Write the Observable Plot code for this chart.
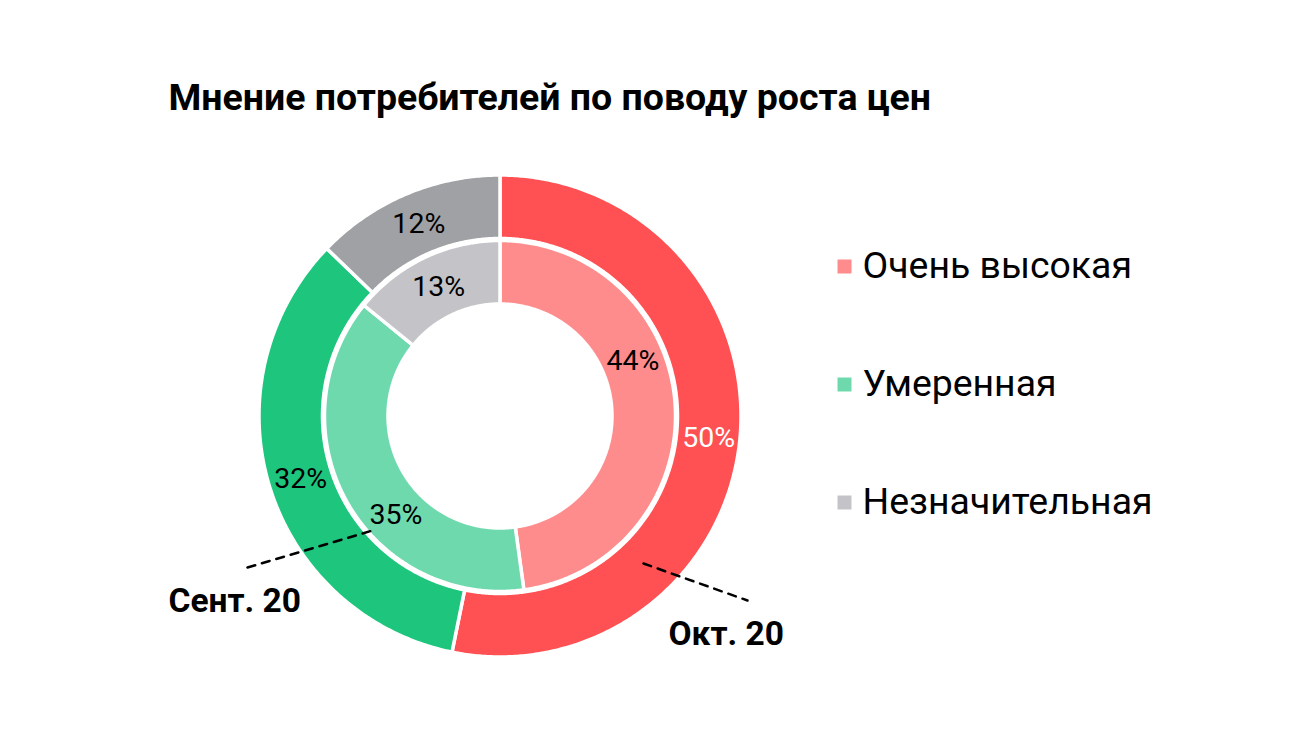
<!DOCTYPE html>
<html>
<head>
<meta charset="utf-8">
<script src="https://cdn.jsdelivr.net/npm/d3@7"></script>
<script src="https://cdn.jsdelivr.net/npm/@observablehq/plot@0.6"></script>
<style>
  html, body { margin: 0; padding: 0; background: #fff; }
  #chart svg { display: block; font-family: Roboto, sans-serif; }
</style>
</head>
<body>
<div id="chart"></div>
<script>
// ---- data ----
const title = "Мнение потребителей по поводу роста цен";
const categories = ["Очень высокая", "Умеренная", "Незначительная"];
const periods = ["Окт. 20", "Сент. 20"];          // outer ring, inner ring
const octValues = [50, 32, 12];
const septValues = [44, 35, 13];

// ---- styles / layout (not data) ----
const W = 1300, H = 731;
const cx = 500, cy = 416;                            // donut centre in pixels
const rings = {
  "Окт. 20":  {values: octValues,  r0: 177.5, r1: 241, colors: ["#FF5053", "#1DC57D", "#A0A1A5"], labelColor: ["#ffffff", "#000000", "#000000"]},
  "Сент. 20": {values: septValues, r0: 112,   r1: 175.5, colors: ["#FF8C8C", "#6FD9AE", "#C4C4C8"], labelColor: ["#000000", "#000000", "#000000"]}
};
const labelAngleShift = {"Сент. 20|Очень высокая": -19, "Сент. 20|Умеренная": -14};
const legendColors = rings["Сент. 20"].colors;

// build ring geometry from the values via d3.pie (angle 0 = 12 o'clock, clockwise)
const arcRows = [];
const labelRows = [];
for (const p of periods) {
  const ring = rings[p];
  const arcs = d3.pie().sort(null).startAngle(0).endAngle(2 * Math.PI)(ring.values);
  arcs.forEach((a, i) => {
    const key = p + "|" + categories[i];
    const n = Math.max(2, Math.ceil((a.endAngle - a.startAngle) / (Math.PI / 360)));
    for (let k = 0; k <= n; k++) {
      const t = a.startAngle + (a.endAngle - a.startAngle) * k / n;
      arcRows.push({
        key, fill: ring.colors[i],
        x1: ring.r0 * Math.sin(t), y1: ring.r0 * Math.cos(t),
        x2: ring.r1 * Math.sin(t), y2: ring.r1 * Math.cos(t)
      });
    }
    const mid = (a.startAngle + a.endAngle) / 2 + (labelAngleShift[key] || 0) * Math.PI / 180;
    const rm = (ring.r0 + ring.r1) / 2;
    labelRows.push({x: rm * Math.sin(mid), y: rm * Math.cos(mid), text: ring.values[i] + "%", color: ring.labelColor[i]});
  });
}

// annotation callouts (pixel offsets from donut centre)
const callouts = [
  {label: "Сент. 20", line: [[-253, -151], [-128, -114]], tx: -332, ty: -185},
  {label: "Окт. 20",  line: [[143, -147], [247, -184]],  tx: 168,  ty: -218}
];
const calloutLines = callouts.flatMap(c => c.line.map(([x, y]) => ({label: c.label, x, y})));

// legend rows
const legendRows = categories.map((c, i) => ({
  c, color: legendColors[i], x: 344, y: cy - 266 - i * 118
}));

const chart = Plot.plot({
  width: W, height: H,
  margin: 0,
  x: {domain: [-cx, W - cx], axis: null},
  y: {domain: [-(H - cy), cy], axis: null},
  style: {fontFamily: "Roboto, sans-serif", background: "#fff"},
  marks: [
    Plot.area(arcRows, {x1: "x1", y1: "y1", x2: "x2", y2: "y2", z: "key", fill: "fill", stroke: "#fff", strokeWidth: 3.5, curve: "linear"}),
    Plot.text(labelRows, {x: "x", y: "y", text: "text", fill: "color", fontSize: 28.5, textAnchor: "middle"}),
    Plot.line(calloutLines, {x: "x", y: "y", z: "label", stroke: "#000", strokeWidth: 2.5, strokeDasharray: "8,7"}),
    Plot.text(callouts, {x: "tx", y: "ty", text: "label", fontSize: 33.5, fontWeight: "bold", textAnchor: "start", fill: "#000"}),
    Plot.dot(legendRows, {x: "x", y: "y", symbol: "square", r: 7.9, fill: "color", stroke: null}),
    Plot.text(legendRows, {x: "x", y: "y", text: "c", dx: 18, fontSize: 37.4, textAnchor: "start", fill: "#000"}),
    Plot.text([title], {frameAnchor: "top-left", dx: 168, dy: 97, text: d => d, fontSize: 37.5, fontWeight: "bold", textAnchor: "start", lineAnchor: "middle", fill: "#000"})
  ]
});
document.getElementById("chart").appendChild(chart);
</script>
</body>
</html>
